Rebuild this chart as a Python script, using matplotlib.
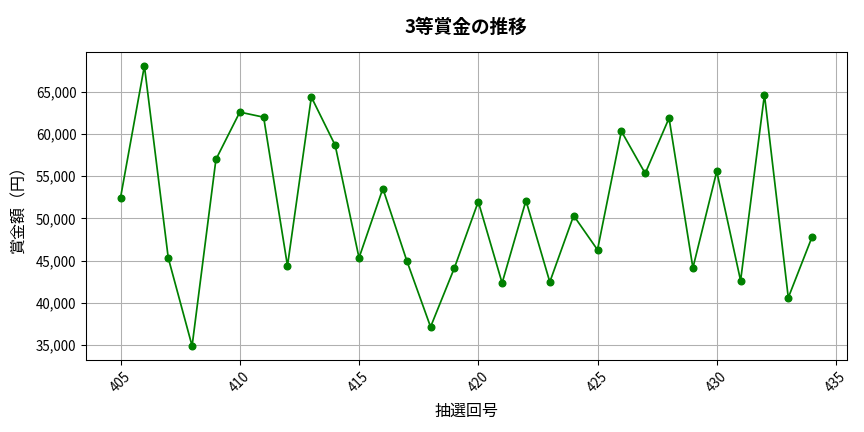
import matplotlib
matplotlib.use('Agg')
import matplotlib.pyplot as plt
from matplotlib.ticker import FuncFormatter

plt.rcParams['font.family'] = ['Noto Sans CJK JP', 'DejaVu Sans']

draws = list(range(405, 435))
prize = [52460, 68060, 45320, 34880, 56980, 62580, 61980, 44370, 64370, 58650,
         45320, 53530, 45000, 37140, 44130, 51980, 42340, 52100, 42460, 50320,
         46270, 60320, 55320, 61870, 44130, 55560, 42620, 64640, 40600, 47820]

fig, ax = plt.subplots(figsize=(9, 4.5), dpi=96)
ax.plot(draws, prize, color='green', marker='o', markersize=5, linewidth=1.3)

ax.set_title('3等賞金の推移', fontsize=14, fontweight='bold', pad=14)
ax.set_xlabel('抽選回号', fontsize=12, labelpad=6)
ax.set_ylabel('賞金額（円）', fontsize=12, labelpad=6)
ax.yaxis.set_major_formatter(FuncFormatter(lambda v, p: f'{int(v):,}'))
ax.tick_params(axis='x', rotation=45)
ax.tick_params(labelsize=10)
ax.grid(True, color='#b0b0b0', linewidth=0.8)

plt.subplots_adjust(left=0.0995, right=0.980, top=0.880, bottom=0.1667)
plt.savefig('out.png')
